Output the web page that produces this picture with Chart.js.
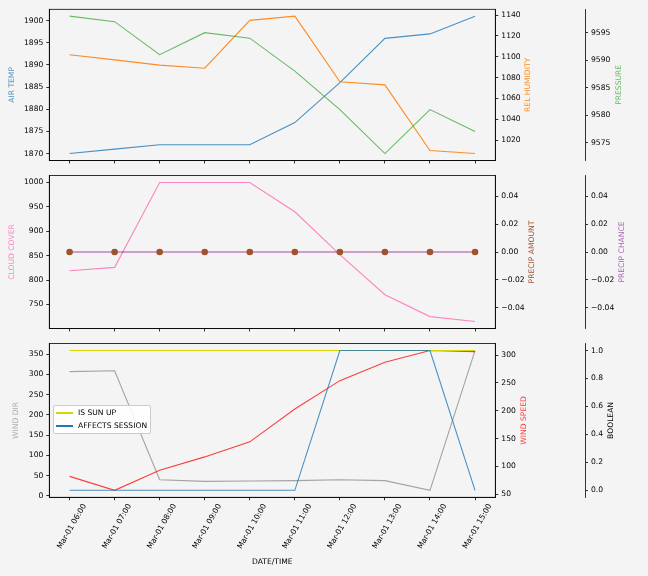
<!DOCTYPE html>
<html>
<head>
<meta charset="utf-8">
<script src="https://cdn.jsdelivr.net/npm/chart.js@4.4.1/dist/chart.umd.min.js"></script>
<style>
    body { margin: 0; background: #f4f4f4; }
    #wrap { position: relative; width: 648px; height: 576px; background: #f4f4f4; overflow: hidden; }
    #wrap canvas { position: absolute; left: 0; }
    #legend {
        position: absolute; left: 53px; top: 405px;
        padding: 0 3px 1px 2px;
        background: rgba(255, 255, 255, 0.85);
        border: 1px solid #cccccc; border-radius: 2px;
        font-family: 'DejaVu Sans'; font-size: 7.6px; color: #000;
    }
    .legend-item { display: flex; align-items: center; height: 13px; white-space: nowrap; }
    .swatch { display: block; width: 17px; height: 0; border-top: 2px solid; margin-right: 5px; }
</style>
</head>
<body>
<div id="wrap">
    <canvas id="panel-top" width="648" height="168" style="top:0px"></canvas>
    <canvas id="panel-mid" width="648" height="168" style="top:168px"></canvas>
    <canvas id="panel-bottom" width="648" height="240" style="top:336px"></canvas>
    <div id="legend"></div>
</div>
<script>
// Hourly readings
const timeLabels = ['Mar-01 06:00', 'Mar-01 07:00', 'Mar-01 08:00', 'Mar-01 09:00', 'Mar-01 10:00',
    'Mar-01 11:00', 'Mar-01 12:00', 'Mar-01 13:00', 'Mar-01 14:00', 'Mar-01 15:00'];

const airTemp = [1870, 1871, 1872, 1872, 1872, 1877, 1886, 1896, 1897, 1901];
const relHumidity = [1102, 1097, 1092, 1089, 1135, 1139, 1076, 1073, 1010, 1007];
const pressure = [9598, 9597, 9591, 9595, 9594, 9588, 9581, 9573, 9581, 9577];

const cloudCover = [819, 826, 1000, 1000, 1000, 940, 852, 770, 725, 715];
const precipAmount = [0, 0, 0, 0, 0, 0, 0, 0, 0, 0];
const precipChance = [0, 0, 0, 0, 0, 0, 0, 0, 0, 0];

const windDir = [307, 309, 40, 36, 37, 38, 40, 38, 14, 359];
const windSpeed = [82, 57, 93, 117, 144, 203, 254, 287, 308, 306];
const isSunUp = [1, 1, 1, 1, 1, 1, 1, 1, 1, 1];
const affectsSession = [0, 0, 0, 0, 0, 0, 1, 1, 1, 0];

// Tick values for each axis
const airTempTicks = [1870, 1875, 1880, 1885, 1890, 1895, 1900];
const humidityTicks = [1020, 1040, 1060, 1080, 1100, 1120, 1140];
const pressureTicks = [9575, 9580, 9585, 9590, 9595];
const cloudTicks = [750, 800, 850, 900, 950, 1000];
const precipTicks = [-0.04, -0.02, 0, 0.02, 0.04];
const windDirTicks = [0, 50, 100, 150, 200, 250, 300, 350];
const windSpeedTicks = [50, 100, 150, 200, 250, 300];
const boolTicks = [0, 0.2, 0.4, 0.6, 0.8, 1.0];

const FONT = 'DejaVu Sans';
const FONT_SIZE = 7.6;
Chart.defaults.font.family = FONT;
Chart.defaults.font.size = FONT_SIZE;
Chart.defaults.color = '#000';

const LEFT_W = 49.3, RIGHT1_W = 89.7, RIGHT2_W = 63;

// Auto range like matplotlib: 5% margin around the data
function padRange(values) {
    let lo = Math.min(...values), hi = Math.max(...values);
    if (lo === hi) { lo -= 0.05; hi += 0.05; }
    const m = (hi - lo) * 0.05;
    return [lo - m, hi + m];
}

function fmt(v, decimals) {
    return v.toFixed(decimals).replace('-', '\u2212');
}

function points(values) {
    return values.map((v, i) => ({ x: i, y: v }));
}

function lineSet(label, values, color, axis, order) {
    return {
        label, data: points(values), yAxisID: axis, order,
        borderColor: color, backgroundColor: color,
        borderWidth: 1.1, pointRadius: 0, tension: 0
    };
}

function yAxis(position, values, ticks, width, decimals, weight) {
    const range = padRange(values);
    return {
        type: 'linear', axis: 'y', position, weight,
        min: range[0], max: range[1],
        afterBuildTicks: s => { s.ticks = ticks.map(v => ({ value: v })); },
        afterFit: s => { s.width = width; },
        grid: { drawOnChartArea: false, drawTicks: true, tickLength: 3, color: '#000', lineWidth: 0.8 },
        border: { display: true, color: '#000', width: 0.8 },
        ticks: { color: '#000', padding: 3, callback: v => fmt(v, decimals) }
    };
}

function xAxis(showLabels, height) {
    const pad = (timeLabels.length - 1) * 0.05;
    return {
        type: 'linear', axis: 'x', position: 'bottom',
        min: -pad, max: timeLabels.length - 1 + pad,
        afterBuildTicks: s => { s.ticks = timeLabels.map((_, i) => ({ value: i })); },
        afterFit: s => { s.height = height; },
        grid: { drawOnChartArea: false, drawTicks: true, tickLength: 3, color: '#000', lineWidth: 0.8 },
        border: { display: true, color: '#000', width: 0.8 },
        ticks: {
            display: showLabels, autoSkip: false, minRotation: 60, maxRotation: 60,
            color: '#000', padding: 2, labelOffset: 15,
            callback: v => timeLabels[v] || ''
        }
    };
}

// Draws the plot frame and the axis titles (bottom-to-top like matplotlib)
const framePlugin = {
    id: 'frame',
    afterDraw(chart, args, opts) {
        const a = chart.chartArea;
        const ctx = chart.ctx;
        ctx.save();
        ctx.strokeStyle = '#000';
        ctx.lineWidth = 0.8;
        ctx.strokeRect(a.left, a.top, a.right - a.left, a.bottom - a.top);
        ctx.font = FONT_SIZE + 'px ' + FONT;
        ctx.textAlign = 'center';
        ctx.textBaseline = 'middle';
        (opts.titles || []).forEach(t => {
            const s = chart.scales[t.axis];
            ctx.fillStyle = t.color;
            if (s.isHorizontal()) {
                ctx.fillText(t.text, (a.left + a.right) / 2, a.bottom + t.offset);
            } else {
                const x = s.position === 'left' ? a.left - t.offset : s.left + t.offset;
                ctx.save();
                ctx.translate(x, (a.top + a.bottom) / 2);
                ctx.rotate(-Math.PI / 2);
                ctx.fillText(t.text, 0, 0);
                ctx.restore();
            }
        });
        ctx.restore();
    }
};

function makeChart(id, padTop, datasets, scales, titles) {
    return new Chart(document.getElementById(id), {
        type: 'line',
        data: { datasets },
        options: {
            responsive: false,
            animation: false,
            layout: { padding: { top: padTop, left: 0, right: 0, bottom: 0 } },
            plugins: { legend: { display: false }, tooltip: { enabled: false }, frame: { titles } },
            scales
        },
        plugins: [framePlugin]
    });
}

const C = {
    blue: 'rgba(31,119,180,0.8)',
    orange: 'rgba(255,127,14,0.9)',
    green: 'rgba(44,160,44,0.7)',
    pink: 'rgba(255,105,180,0.8)',
    sienna: '#a0522d',
    purple: 'rgba(128,0,128,0.7)',
    gray: 'rgba(128,128,128,0.7)',
    red: 'rgba(255,0,0,0.75)',
    yellow: '#d6d600',
    session: 'rgba(31,119,180,0.8)'
};

// Panel 1: temperature, humidity, pressure
makeChart('panel-top', 9.3, [
    lineSet('AIR TEMP', airTemp, C.blue, 'y', 3),
    lineSet('REL HUMIDITY', relHumidity, C.orange, 'yHum', 2),
    lineSet('PRESSURE', pressure, C.green, 'yPres', 1)
], {
    x: xAxis(false, 4.7),
    y: yAxis('left', airTemp, airTempTicks, LEFT_W, 0, 0),
    yHum: yAxis('right', relHumidity, humidityTicks, RIGHT1_W, 0, 0),
    yPres: yAxis('right', pressure, pressureTicks, RIGHT2_W, 0, 1)
}, [
    { axis: 'y', text: 'AIR TEMP', color: C.blue, offset: 37.6 },
    { axis: 'yHum', text: 'REL HUMIDITY', color: C.orange, offset: 33 },
    { axis: 'yPres', text: 'PRESSURE', color: C.green, offset: 34.3 }
]);

// Panel 2: clouds and precipitation
const precipMarkers = lineSet('PRECIP AMOUNT', precipAmount, C.sienna, 'yAmt', 1);
precipMarkers.showLine = false;
precipMarkers.pointRadius = 3.3;
precipMarkers.pointBorderWidth = 0;

makeChart('panel-mid', 7.3, [
    lineSet('CLOUD COVER', cloudCover, C.pink, 'y', 3),
    lineSet('PRECIP CHANCE', precipChance, C.purple, 'yChance', 2),
    precipMarkers
], {
    x: xAxis(false, 5.7),
    y: yAxis('left', cloudCover, cloudTicks, LEFT_W, 0, 0),
    yAmt: yAxis('right', precipAmount, precipTicks, RIGHT1_W, 2, 0),
    yChance: yAxis('right', precipChance, precipTicks, RIGHT2_W, 2, 1)
}, [
    { axis: 'y', text: 'CLOUD COVER', color: C.pink, offset: 37.6 },
    { axis: 'yAmt', text: 'PRECIP AMOUNT', color: C.sienna, offset: 37 },
    { axis: 'yChance', text: 'PRECIP CHANCE', color: 'rgba(150,60,170,0.8)', offset: 36.6 }
]);

// Panel 3: wind and flags
const boolSets = [
    lineSet('IS SUN UP', isSunUp, C.yellow, 'yBool', 2),
    lineSet('AFFECTS SESSION', affectsSession, C.session, 'yBool', 1)
];

makeChart('panel-bottom', 6.3, [
    lineSet('WIND DIR', windDir, C.gray, 'y', 4),
    lineSet('WIND SPEED', windSpeed, C.red, 'ySpeed', 3),
    ...boolSets
], {
    x: xAxis(true, 78.7),
    y: yAxis('left', windDir, windDirTicks, LEFT_W, 0, 0),
    ySpeed: yAxis('right', windSpeed, windSpeedTicks, RIGHT1_W, 0, 0),
    yBool: yAxis('right', [0, 1], boolTicks, RIGHT2_W, 1, 1)
}, [
    { axis: 'y', text: 'WIND DIR', color: 'rgba(128,128,128,0.6)', offset: 33.6 },
    { axis: 'ySpeed', text: 'WIND SPEED', color: C.red, offset: 28.7 },
    { axis: 'yBool', text: 'BOOLEAN', color: '#000', offset: 26 },
    { axis: 'x', text: 'DATE/TIME', color: '#000', offset: 64.7 }
]);

// Legend for the boolean series (solid swatch colours)
const legendColors = ['#d6d600', '#1f77b4'];
const legendBox = document.getElementById('legend');
boolSets.forEach((set, i) => {
    const row = document.createElement('div');
    row.className = 'legend-item';
    const swatch = document.createElement('span');
    swatch.className = 'swatch';
    swatch.style.borderTopColor = legendColors[i];
    row.appendChild(swatch);
    row.appendChild(document.createTextNode(set.label));
    legendBox.appendChild(row);
});
</script>
</body>
</html>
